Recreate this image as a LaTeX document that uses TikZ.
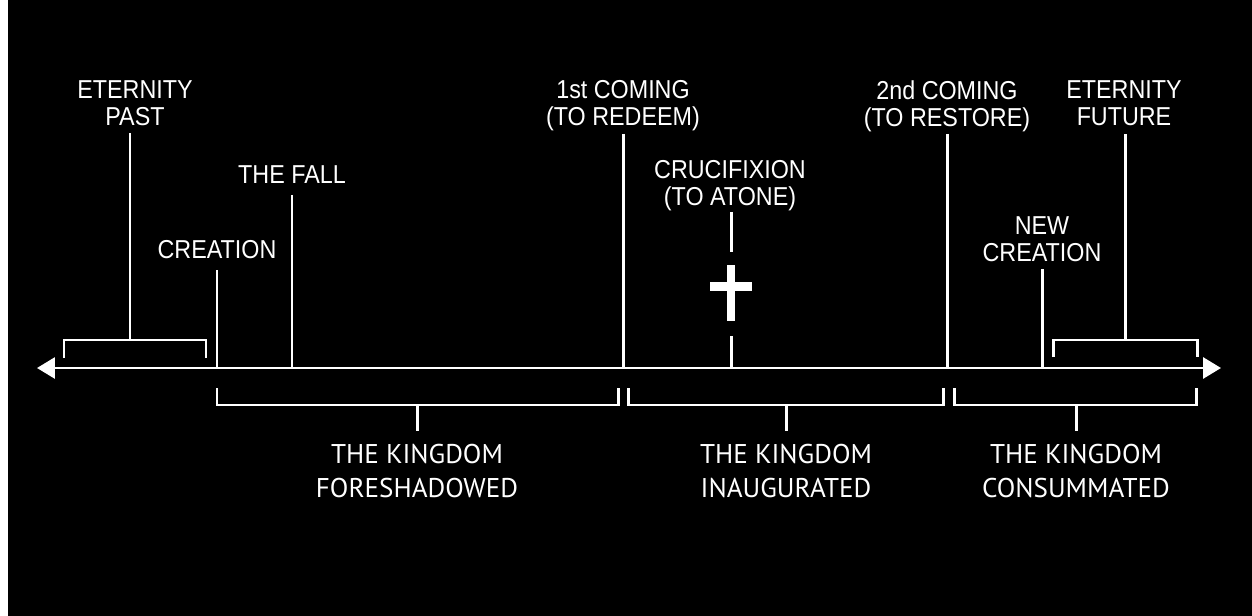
\documentclass[tikz,border=0pt]{standalone}
\usepackage{fontspec}
\setmainfont{Liberation Sans}
\newfontfamily\eventfont[FakeStretch=0.9]{Liberation Sans}
\newfontfamily\erafont{PT Sans}
\usetikzlibrary{arrows.meta,positioning}

\begin{document}
\begin{tikzpicture}[x=0.5bp,y=-0.5bp,
  line/.style={white, line width=1.5pt},
  event/.style={text=white, font=\eventfont\fontsize{13}{13.5}\selectfont, align=center, anchor=north, inner sep=0pt},
  era/.style={text=white, font=\erafont\fontsize{13.6}{17}\selectfont, align=center, anchor=north, inner sep=0pt, outer sep=6.5pt}]
  % background
  \useasboundingbox (0,0) rectangle (1252,616);
  \fill[black] (-10,-10) rectangle (1262,626);
  \fill[white] (-10,-10) rectangle (8,626);

  % timeline
  \coordinate (past end) at (37,368);
  \coordinate (future end) at (1221,368);
  \draw[line, {Triangle[length=9pt,width=10.5pt]}-{Triangle[length=9pt,width=10.5pt]}] (past end) -- (future end);

  % events on the line
  \coordinate (creation) at (217,368);
  \coordinate (fall) at (292,368);
  \coordinate (first) at (623,368);
  \coordinate (cross) at (731,368);
  \coordinate (second) at (947,368);
  \coordinate (newcr) at (1042,368);

  % labels above
  \node[event] (l past) at (135,80) {ETERNITY\\PAST};
  \node[event] (l fall) at (292,165) {THE FALL};
  \node[event] (l creation) at (217,240) {CREATION};
  \node[event] (l first) at (623,80) {1st COMING\\(TO REDEEM)};
  \node[event] (l cross) at (730,160) {CRUCIFIXION\\(TO ATONE)};
  \node[event] (l second) at (947,80) {2nd COMING\\(TO RESTORE)};
  \node[event] (l newcr) at (1042,216) {NEW\\CREATION};
  \node[event] (l future) at (1124,80) {ETERNITY\\FUTURE};

  % ticks
  \coordinate (t fall) at (292,195);
  \coordinate (t creation) at (217,270);
  \coordinate (t first) at (623,134);
  \coordinate (t second) at (947,134);
  \coordinate (t newcr) at (1042,269);
  \draw[line] (t fall) -- (fall);
  \draw[line] (t creation) -- (creation);
  \draw[line] (t first) -- (first);
  \draw[line] (t second) -- (second);
  \draw[line] (t newcr) -- (newcr);

  % crucifixion
  \coordinate (t cross) at (731,212);
  \coordinate (c top) at (731,252);
  \coordinate (c bot) at (731,336);
  \draw[line] (t cross) -- (c top);
  \draw[line] (c bot) -- (cross);
  \fill[white] (727,265) rectangle (735,321);
  \fill[white] (710,282) rectangle (752,291);

  % eternity brackets
  \coordinate (b past) at (130,340);
  \coordinate (b future) at (1125,340);
  \coordinate (t past) at (130,133);
  \coordinate (t future) at (1125,134);
  \draw[line] (64,358) -- (64,340) -- (206,340) -- (206,358);
  \draw[line] (1053,357) -- (1053,340) -- (1197,340) -- (1197,357);
  \draw[line] (b past) -- (t past);
  \draw[line] (b future) -- (t future);

  % kingdom brackets
  \draw[line] (217,388) -- (217,405) -- (618,405) -- (618,388);
  \draw[line] (628,388) -- (628,405) -- (943,405) -- (943,388);
  \draw[line] (954,388) -- (954,405) -- (1196,405) -- (1196,388);
  \coordinate (k1) at (417,405);
  \coordinate (k2) at (786,405);
  \coordinate (k3) at (1076,405);
  \node[era] (e1) at (417,431) {THE KINGDOM\\FORESHADOWED};
  \node[era] (e2) at (786,431) {THE KINGDOM\\INAUGURATED};
  \node[era] (e3) at (1076,431) {THE KINGDOM\\CONSUMMATED};
  \draw[line] (k1) -- (e1);
  \draw[line] (k2) -- (e2);
  \draw[line] (k3) -- (e3);
\end{tikzpicture}
\end{document}
